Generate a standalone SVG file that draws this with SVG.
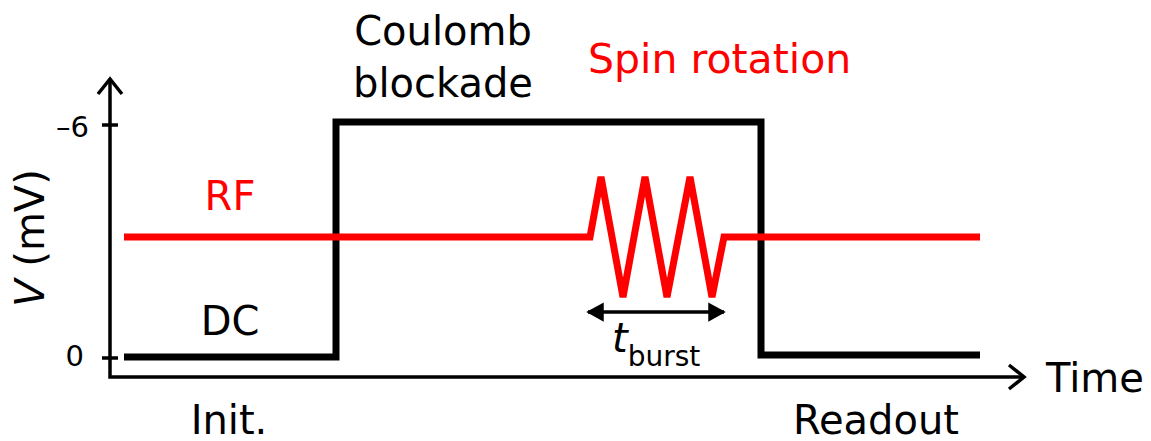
<svg xmlns="http://www.w3.org/2000/svg" width="1151" height="441" viewBox="0 0 1151 441">
<style>
text{font-family:"DejaVu Sans","Liberation Sans",sans-serif;fill:#000}
.red{fill:#ff0000}
.big{font-size:40px}
.num{font-size:29px}
.axis{stroke:#000;stroke-width:3.5;fill:none}
.dc{stroke:#000;stroke-width:7;fill:none;stroke-linejoin:miter}
.rf{stroke:#ff0000;stroke-width:7;fill:none;stroke-linejoin:miter}
</style>
<defs>
<marker id="tri" viewBox="0 0 10 10" refX="9" refY="5" markerWidth="5" markerHeight="5.5" orient="auto-start-reverse" markerUnits="strokeWidth" preserveAspectRatio="none">
<path d="M0,0 L10,5 L0,10 z" fill="#000"/>
</marker>
</defs>
<g id="connectors">
<g id="axes">
<polyline class="axis" points="110,79 110,377 1024,377"/>
<polyline class="axis" points="98,94 110,79 122,94"/>
<polyline class="axis" points="1009,365 1024,377 1009,389"/>
<line class="axis" x1="102" y1="125" x2="118" y2="125"/>
<line class="axis" x1="102" y1="358" x2="118" y2="358"/>
</g>
<polyline id="dc-pulse" class="dc" points="124,357 336,357 336,122 761,122 761,355 980,355"/>
<polyline id="rf-burst" class="rf" points="124,237 590,237 601,177 623,297 645,177 667,297 690,177 712,297 724,237 980,237"/>
<line id="tburst-arrow" x1="588" y1="312" x2="724" y2="312" stroke="#000" stroke-width="3.5" marker-start="url(#tri)" marker-end="url(#tri)"/>
</g>
<g id="labels">
<text class="num" x="89" y="137" text-anchor="end" font-size="30">–6</text>
<text class="num" x="84" y="366" text-anchor="end">0</text>
<text class="big" transform="translate(44,238) rotate(-90)" text-anchor="middle"><tspan font-style="italic">V</tspan> (mV)</text>
<text class="big red" x="230" y="210" text-anchor="middle">RF</text>
<text class="big" x="230" y="335" text-anchor="middle">DC</text>
<text class="big" x="443" y="45" text-anchor="middle">Coulomb</text>
<text class="big" x="443" y="97" text-anchor="middle">blockade</text>
<text class="red" x="588" y="73" font-size="41">Spin rotation</text>
<text class="big" x="1046" y="392">Time</text>
<text class="big" x="229" y="434" text-anchor="middle">Init.</text>
<text class="big" x="876" y="434" text-anchor="middle">Readout</text>
<text x="612" y="352" font-size="40" font-style="italic">t<tspan font-size="28" font-style="normal" dy="14">burst</tspan></text>
</g>
</svg>
